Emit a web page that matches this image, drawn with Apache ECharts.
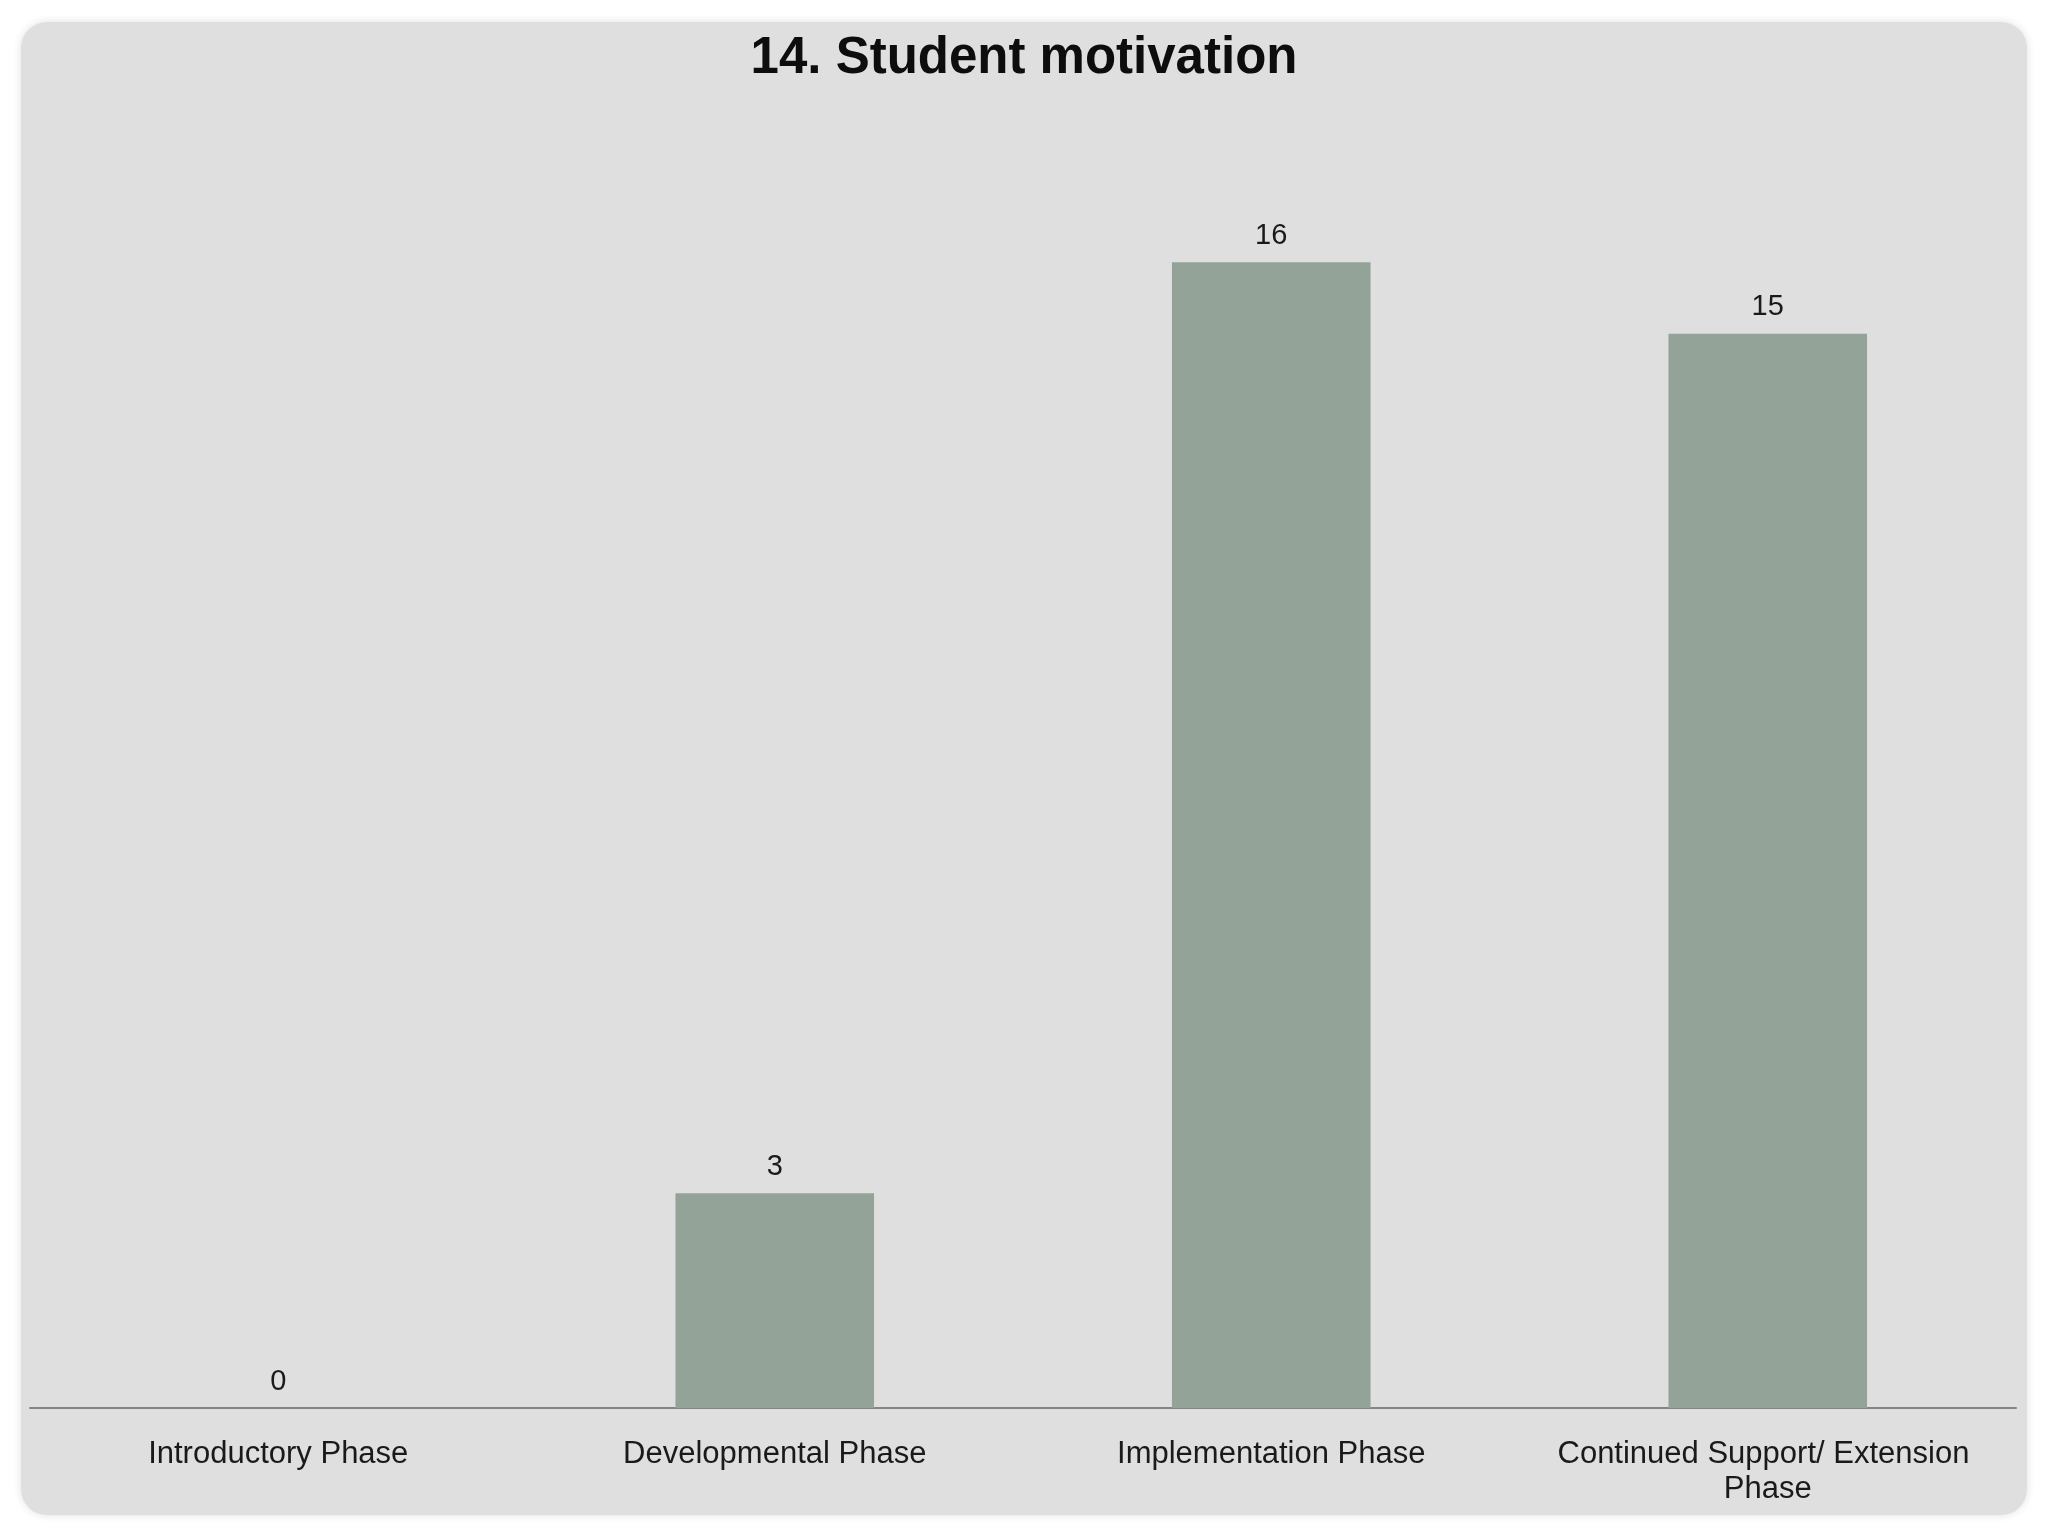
<!DOCTYPE html>
<html>
<head>
<meta charset="utf-8">
<script src="https://cdn.jsdelivr.net/npm/echarts@6/dist/echarts.min.js"></script>
<style>
html,body{margin:0;padding:0;background:#ffffff;}
#chart{width:2048px;height:1536px;}
</style>
</head>
<body>
<div id="chart"></div>
<script>
const titleText = '14. Student motivation';
const categories = ['Introductory Phase', 'Developmental Phase', 'Implementation Phase', 'Continued Support/ Extension Phase'];
const values = [0, 3, 16, 15];

const chart = echarts.init(document.getElementById('chart'), null, {renderer: 'canvas'});
chart.setOption({
  backgroundColor: '#ffffff',
  animation: false,
  graphic: [{
    type: 'rect',
    z: -10,
    shape: {x: 21, y: 22, width: 2006, height: 1493, r: 26},
    style: {fill: '#e0dfdf', shadowBlur: 8, shadowColor: 'rgba(0,0,0,0.12)'}
  }],
  title: {
    text: titleText,
    left: 'center',
    top: 28,
    textStyle: {fontFamily: 'Liberation Sans', fontWeight: 'bold', fontSize: 51, color: '#0d0d0d'}
  },
  grid: {left: 30, right: 32, top: 119, bottom: 128, containLabel: false},
  xAxis: {
    type: 'category',
    data: categories,
    axisLine: {show: true, lineStyle: {color: '#858585', width: 2}},
    axisTick: {show: false},
    axisLabel: {
      interval: 0,
      margin: 29,
      fontFamily: 'Liberation Sans',
      fontSize: 31,
      lineHeight: 35,
      color: '#1a1a1a',
      width: 440,
      overflow: 'break'
    }
  },
  yAxis: {
    type: 'value',
    min: 0,
    max: 18,
    show: false,
    splitLine: {show: false}
  },
  series: [{
    type: 'bar',
    data: values,
    barWidth: '40%',
    itemStyle: {color: '#93a398'},
    label: {
      show: true,
      position: 'top',
      distance: 12,
      fontFamily: 'Liberation Sans',
      fontSize: 29,
      color: '#1a1a1a'
    }
  }]
});
</script>
</body>
</html>
